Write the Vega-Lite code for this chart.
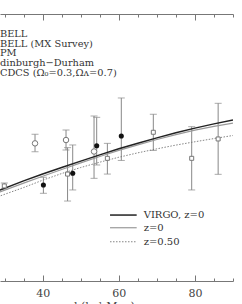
{
  "$schema": "https://vega.github.io/schema/vega-lite/v6.json",
  "width": 233,
  "height": 267,
  "autosize": {"type": "none"},
  "padding": {"left": 0, "top": 14, "right": 9, "bottom": 23},
  "background": "white",
  "config": {"view": {"stroke": null}, "font": "DejaVu Serif"},
  "datasets": {
    "points": [
      {"x": 29.93, "y": 7.12, "lo": 6.9, "hi": 7.34, "t": "sq"},
      {"x": 38.0, "y": 10.31, "lo": 9.69, "hi": 10.99, "t": "oc"},
      {"x": 40.2, "y": 7.19, "lo": 6.57, "hi": 7.77, "t": "fc"},
      {"x": 46.14, "y": 10.56, "lo": 9.81, "hi": 11.31, "t": "oc"},
      {"x": 46.55, "y": 8.01, "lo": 5.99, "hi": 9.99, "t": "sq"},
      {"x": 47.9, "y": 8.07, "lo": 6.82, "hi": 10.19, "t": "fc"},
      {"x": 53.5, "y": 9.7, "lo": 7.69, "hi": 12.36, "t": "oc"},
      {"x": 54.2, "y": 10.13, "lo": 8.69, "hi": 12.26, "t": "fc"},
      {"x": 57.0, "y": 9.19, "lo": 8.01, "hi": 10.31, "t": "sq"},
      {"x": 60.66, "y": 10.86, "lo": 9.03, "hi": 13.71, "t": "fc"},
      {"x": 69.07, "y": 11.14, "lo": 9.78, "hi": 12.49, "t": "sq"},
      {"x": 79.15, "y": 9.19, "lo": 6.82, "hi": 11.56, "t": "sq"},
      {"x": 86.1, "y": 10.64, "lo": 7.99, "hi": 13.31, "t": "sq"}
    ],
    "curves": [
      {"s": "virgo", "x": 26, "y": 6.55}, {"s": "virgo", "x": 28.8, "y": 6.82}, {"s": "virgo", "x": 35, "y": 7.5},
      {"s": "virgo", "x": 40, "y": 8.02}, {"s": "virgo", "x": 45, "y": 8.5}, {"s": "virgo", "x": 50, "y": 8.98},
      {"s": "virgo", "x": 55, "y": 9.45}, {"s": "virgo", "x": 60, "y": 9.9}, {"s": "virgo", "x": 65, "y": 10.32},
      {"s": "virgo", "x": 70, "y": 10.72}, {"s": "virgo", "x": 75, "y": 11.1}, {"s": "virgo", "x": 80, "y": 11.45},
      {"s": "virgo", "x": 85, "y": 11.77}, {"s": "virgo", "x": 90, "y": 12.06},
      {"s": "z0", "x": 26, "y": 6.4}, {"s": "z0", "x": 28.8, "y": 6.67}, {"s": "z0", "x": 35, "y": 7.33},
      {"s": "z0", "x": 40, "y": 7.85}, {"s": "z0", "x": 45, "y": 8.35}, {"s": "z0", "x": 50, "y": 8.85},
      {"s": "z0", "x": 55, "y": 9.33}, {"s": "z0", "x": 60, "y": 9.78}, {"s": "z0", "x": 65, "y": 10.2},
      {"s": "z0", "x": 70, "y": 10.6}, {"s": "z0", "x": 75, "y": 10.97}, {"s": "z0", "x": 80, "y": 11.3},
      {"s": "z0", "x": 85, "y": 11.58}, {"s": "z0", "x": 90, "y": 11.82},
      {"s": "z05", "x": 26, "y": 6.1}, {"s": "z05", "x": 28.8, "y": 6.37}, {"s": "z05", "x": 35, "y": 7.0},
      {"s": "z05", "x": 40, "y": 7.55}, {"s": "z05", "x": 45, "y": 8.05}, {"s": "z05", "x": 50, "y": 8.5},
      {"s": "z05", "x": 55, "y": 8.9}, {"s": "z05", "x": 60, "y": 9.27}, {"s": "z05", "x": 65, "y": 9.6},
      {"s": "z05", "x": 70, "y": 9.9}, {"s": "z05", "x": 75, "y": 10.18}, {"s": "z05", "x": 80, "y": 10.43},
      {"s": "z05", "x": 85, "y": 10.67}, {"s": "z05", "x": 90, "y": 10.9}
    ],
    "labels": [
      {"x": 28.8, "y": 18.5, "label": "BELL"},
      {"x": 28.8, "y": 17.77, "label": "BELL (MX Survey)"},
      {"x": 28.8, "y": 17.06, "label": "PM"},
      {"x": 28.8, "y": 16.33, "label": "dinburgh−Durham"},
      {"x": 28.8, "y": 15.6, "label": "CDCS (Ω₀=0.3,Ωᴧ=0.7)"}
    ],
    "keys": [
      {"s": "virgo", "x": 57.7, "x2": 64.7, "y": 4.94, "label": "VIRGO,  z=0"},
      {"s": "z0", "x": 57.7, "x2": 64.7, "y": 3.99, "label": "z=0"},
      {"s": "z05", "x": 57.7, "x2": 64.7, "y": 2.94, "label": "z=0.50"}
    ]
  },
  "resolve": {"scale": {"x": "independent"}, "axis": {"x": "independent"}},
  "layer": [
    {
      "data": {"name": "points"},
      "mark": {"type": "rule", "color": "#888", "strokeWidth": 1},
      "encoding": {
        "x": {"field": "x", "type": "quantitative", "scale": {"domain": [28.8, 90], "nice": false, "zero": false},
          "axis": {"orient": "bottom", "values": [30, 35, 40, 45, 50, 55, 60, 65, 70, 75, 80, 85, 90],
            "labelExpr": "datum.value % 20 === 0 ? datum.label : ''", "labelOverlap": false, "labelFlush": false,
            "tickSize": {"condition": {"test": "datum.value % 20 === 0", "value": -6}, "value": -3},
            "domainColor": "#777", "tickColor": "#777", "labelColor": "#444", "labelFont": "DejaVu Serif",
            "labelFontSize": 11, "labelPadding": 12, "grid": false,
            "title": "d  (h⁻¹ Mpc)", "titleFont": "DejaVu Serif", "titleFontWeight": "normal", "titleFontSize": 11,
            "titleColor": "#444", "titleAnchor": "start", "titleAlign": "left", "titleX": 70, "titleY": 28, "titleBaseline": "alphabetic"}},
        "y": {"field": "lo", "type": "quantitative", "scale": {"domain": [0, 20], "nice": false, "zero": false},
          "axis": {"orient": "right", "values": [0,1,2,3,4,5,6,7,8,9,10,11,12,13,14,15,16,17,18,19,20], "labels": false,
            "tickSize": -4, "domainColor": "#777", "tickColor": "#777", "grid": false, "title": null}},
        "y2": {"field": "hi"}
      }
    },
    {
      "data": {"name": "points"},
      "mark": {"type": "tick", "orient": "horizontal", "color": "#888", "size": 7, "thickness": 1},
      "encoding": {
        "x": {"field": "x", "type": "quantitative", "scale": {"domain": [28.8, 90], "nice": false, "zero": false},
          "axis": {"orient": "top", "values": [30, 35, 40, 45, 50, 55, 60, 65, 70, 75, 80, 85, 90], "labels": false,
            "tickSize": {"condition": {"test": "datum.value % 20 === 0", "value": -6}, "value": -3},
            "domainColor": "#777", "tickColor": "#777", "grid": false, "title": null}},
        "y": {"field": "lo", "type": "quantitative", "axis": null}
      }
    },
    {
      "data": {"name": "points"},
      "mark": {"type": "tick", "orient": "horizontal", "color": "#888", "size": 7, "thickness": 1},
      "encoding": {
        "x": {"field": "x", "type": "quantitative", "scale": {"domain": [28.8, 90], "nice": false, "zero": false}, "axis": null},
        "y": {"field": "hi", "type": "quantitative", "axis": null}
      }
    },
    {
      "data": {"name": "curves"},
      "transform": [{"filter": "datum.s === 'z05'"}],
      "mark": {"type": "line", "clip": true, "color": "#777", "strokeWidth": 0.9, "strokeDash": [1.5, 1.5]},
      "encoding": {
        "x": {"field": "x", "type": "quantitative", "scale": {"domain": [28.8, 90], "nice": false, "zero": false}, "axis": null},
        "y": {"field": "y", "type": "quantitative", "axis": null}
      }
    },
    {
      "data": {"name": "curves"},
      "transform": [{"filter": "datum.s === 'z0'"}],
      "mark": {"type": "line", "clip": true, "color": "#999", "strokeWidth": 1.2},
      "encoding": {
        "x": {"field": "x", "type": "quantitative", "scale": {"domain": [28.8, 90], "nice": false, "zero": false}, "axis": null},
        "y": {"field": "y", "type": "quantitative", "axis": null}
      }
    },
    {
      "data": {"name": "curves"},
      "transform": [{"filter": "datum.s === 'virgo'"}],
      "mark": {"type": "line", "clip": true, "color": "#222", "strokeWidth": 1.5},
      "encoding": {
        "x": {"field": "x", "type": "quantitative", "scale": {"domain": [28.8, 90], "nice": false, "zero": false}, "axis": null},
        "y": {"field": "y", "type": "quantitative", "axis": null}
      }
    },
    {
      "data": {"name": "points"},
      "transform": [{"filter": "datum.t === 'oc'"}],
      "mark": {"type": "point", "shape": "circle", "filled": false, "fill": "white", "fillOpacity": 1, "stroke": "#777", "strokeWidth": 1, "size": 30, "opacity": 1},
      "encoding": {
        "x": {"field": "x", "type": "quantitative", "scale": {"domain": [28.8, 90], "nice": false, "zero": false}, "axis": null},
        "y": {"field": "y", "type": "quantitative", "axis": null}
      }
    },
    {
      "data": {"name": "points"},
      "transform": [{"filter": "datum.t === 'sq'"}],
      "mark": {"type": "point", "shape": "square", "filled": false, "fill": "white", "fillOpacity": 1, "stroke": "#777", "strokeWidth": 1, "size": 16, "opacity": 1},
      "encoding": {
        "x": {"field": "x", "type": "quantitative", "scale": {"domain": [28.8, 90], "nice": false, "zero": false}, "axis": null},
        "y": {"field": "y", "type": "quantitative", "axis": null}
      }
    },
    {
      "data": {"name": "points"},
      "transform": [{"filter": "datum.t === 'fc'"}],
      "mark": {"type": "point", "shape": "circle", "filled": true, "color": "#111", "size": 26, "opacity": 1},
      "encoding": {
        "x": {"field": "x", "type": "quantitative", "scale": {"domain": [28.8, 90], "nice": false, "zero": false}, "axis": null},
        "y": {"field": "y", "type": "quantitative", "axis": null}
      }
    },
    {
      "data": {"name": "labels"},
      "mark": {"type": "text", "align": "left", "baseline": "middle", "font": "DejaVu Serif", "fontSize": 9.8, "color": "#333"},
      "encoding": {
        "x": {"field": "x", "type": "quantitative", "scale": {"domain": [28.8, 90], "nice": false, "zero": false}, "axis": null},
        "y": {"field": "y", "type": "quantitative", "axis": null},
        "text": {"field": "label"}
      }
    },
    {
      "data": {"name": "keys"},
      "transform": [{"filter": "datum.s === 'virgo'"}],
      "mark": {"type": "rule", "color": "#222", "strokeWidth": 1.5},
      "encoding": {
        "x": {"field": "x", "type": "quantitative", "scale": {"domain": [28.8, 90], "nice": false, "zero": false}, "axis": null},
        "x2": {"field": "x2"},
        "y": {"field": "y", "type": "quantitative", "axis": null}
      }
    },
    {
      "data": {"name": "keys"},
      "transform": [{"filter": "datum.s === 'z0'"}],
      "mark": {"type": "rule", "color": "#999", "strokeWidth": 1.2},
      "encoding": {
        "x": {"field": "x", "type": "quantitative", "scale": {"domain": [28.8, 90], "nice": false, "zero": false}, "axis": null},
        "x2": {"field": "x2"},
        "y": {"field": "y", "type": "quantitative", "axis": null}
      }
    },
    {
      "data": {"name": "keys"},
      "transform": [{"filter": "datum.s === 'z05'"}],
      "mark": {"type": "rule", "color": "#777", "strokeWidth": 0.9, "strokeDash": [1.5, 1.5]},
      "encoding": {
        "x": {"field": "x", "type": "quantitative", "scale": {"domain": [28.8, 90], "nice": false, "zero": false}, "axis": null},
        "x2": {"field": "x2"},
        "y": {"field": "y", "type": "quantitative", "axis": null}
      }
    },
    {
      "data": {"name": "keys"},
      "mark": {"type": "text", "align": "left", "baseline": "middle", "font": "DejaVu Serif", "fontSize": 10, "color": "#333", "dx": 7},
      "encoding": {
        "x": {"field": "x2", "type": "quantitative", "scale": {"domain": [28.8, 90], "nice": false, "zero": false}, "axis": null},
        "y": {"field": "y", "type": "quantitative", "axis": null},
        "text": {"field": "label"}
      }
    }
  ]
}
